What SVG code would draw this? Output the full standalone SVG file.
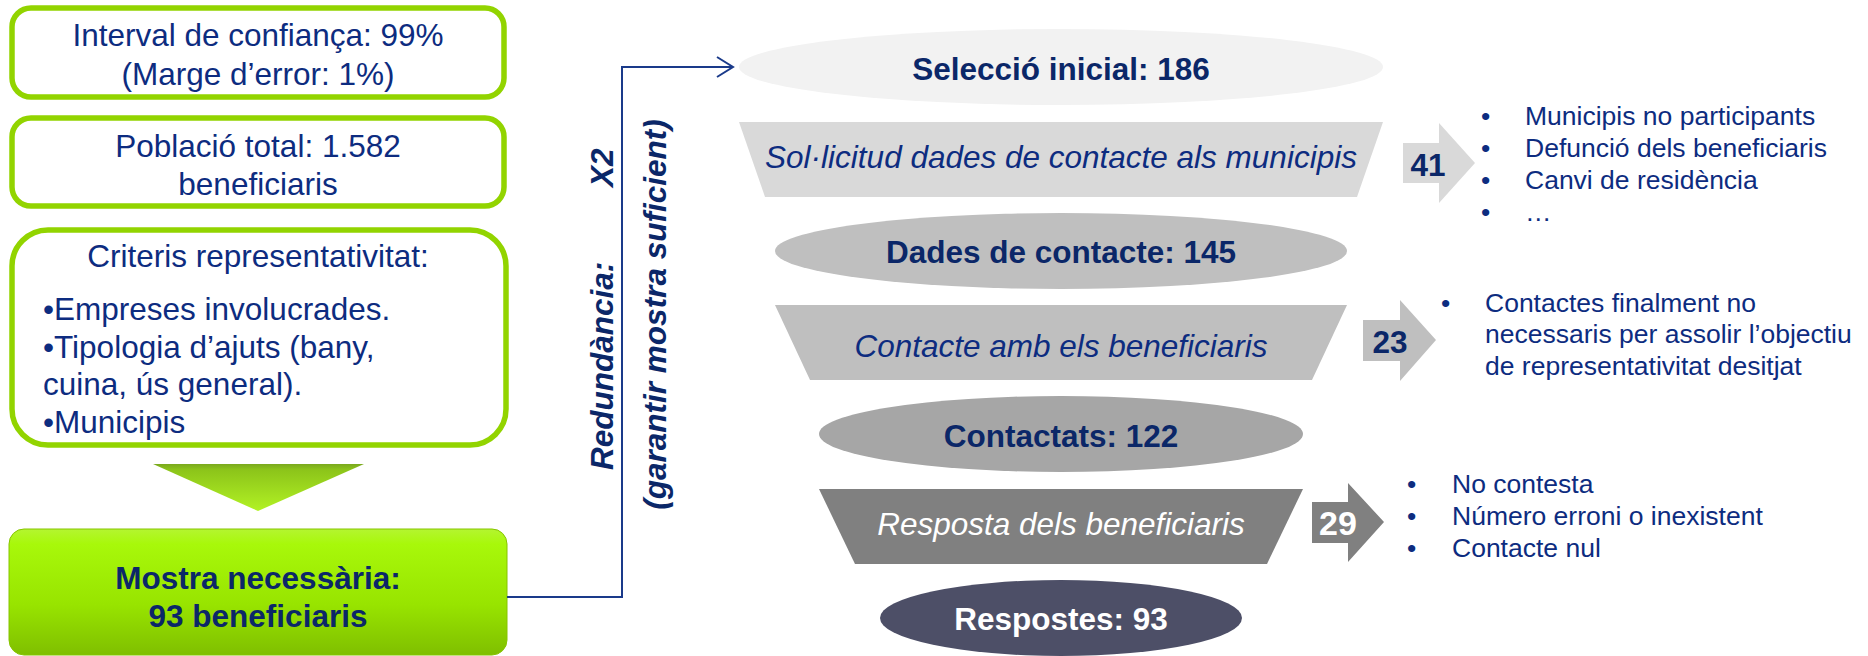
<svg xmlns="http://www.w3.org/2000/svg" width="1868" height="656" viewBox="0 0 1868 656">
<defs>
<linearGradient id="gBox" x1="0" y1="0" x2="0" y2="1">
<stop offset="0" stop-color="#b4f530"/>
<stop offset="0.12" stop-color="#a8f80a"/>
<stop offset="0.6" stop-color="#98e400"/>
<stop offset="1" stop-color="#7fbf00"/>
</linearGradient>
<linearGradient id="gTri" x1="0" y1="0" x2="0" y2="1">
<stop offset="0" stop-color="#7aa81e"/>
<stop offset="0.12" stop-color="#8cc41a"/>
<stop offset="1" stop-color="#b2f224"/>
</linearGradient>
<marker id="open" markerWidth="20" markerHeight="24" refX="17" refY="11" orient="auto" markerUnits="userSpaceOnUse">
<path d="M1,1 L17,11 L1,21" fill="none" stroke="#1a3a8a" stroke-width="2"/>
</marker>
</defs>
<style>
.gbox{fill:#ffffff;stroke:#92d400;stroke-width:5.5}
.t{font-family:"Liberation Sans",Arial,sans-serif;font-size:31.5px;fill:#0d2c80}
.b{font-weight:bold;fill:#0b2768}
.i{font-style:italic}
.w{fill:#ffffff}
.c{text-anchor:middle}
.s{font-family:"Liberation Sans",Arial,sans-serif;font-size:26.5px;fill:#0d2c80}
.conn{fill:none;stroke:#1a3a8a;stroke-width:2}
</style>

<g id="box-interval">
<rect class="gbox" x="12" y="8" width="492" height="89" rx="19"/>
<text class="t c" x="258" y="46">Interval de confiança: 99%</text>
<text class="t c" x="258" y="85">(Marge d’error: 1%)</text>
</g>

<g id="box-poblacio">
<rect class="gbox" x="12" y="118" width="492" height="88" rx="19"/>
<text class="t c" x="258" y="157">Població total: 1.582</text>
<text class="t c" x="258" y="195">beneficiaris</text>
</g>

<g id="box-criteris">
<rect class="gbox" x="12" y="230" width="494" height="215" rx="36"/>
<text class="t c" x="258" y="267">Criteris representativitat:</text>
<text class="t" x="43" y="320">•Empreses involucrades.</text>
<text class="t" x="43" y="358">•Tipologia d’ajuts (bany,</text>
<text class="t" x="43" y="395">cuina, ús general).</text>
<text class="t" x="43" y="433">•Municipis</text>
</g>

<g id="down-arrow">
<polygon points="153,464 364,464 258,511" fill="url(#gTri)"/>
</g>

<g id="box-mostra">
<rect x="9" y="529" width="498" height="126" rx="15" fill="url(#gBox)" stroke="#86c400" stroke-width="1"/>
<text class="t b c" x="258" y="589">Mostra necessària:</text>
<text class="t b c" x="258" y="627">93 beneficiaris</text>
</g>

<g id="redundancia">
<text class="t b i" transform="translate(613,470) rotate(-90)">Redundància:</text>
<text class="t b i" transform="translate(613,187) rotate(-90)">X2</text>
<text class="t b i c" transform="translate(666,314.5) rotate(-90)">(garantir mostra suficient)</text>
</g>

<g id="connectors">
<polyline class="conn" points="507,597 622,597 622,67 733,67" marker-end="url(#open)"/>
</g>

<g id="sel-inicial">
<ellipse cx="1061" cy="67" rx="322" ry="38" fill="#f2f2f2"/>
<text class="t b c" x="1061" y="80">Selecció inicial: 186</text>
</g>

<g id="sol-licitud">
<polygon points="739,122 1383,122 1357,197 765,197" fill="#d9d9d9"/>
<text class="t i c" x="1061" y="168">Sol·licitud dades de contacte als municipis</text>
</g>

<g id="dades-contacte">
<ellipse cx="1061" cy="251" rx="286" ry="38" fill="#bfbfbf"/>
<text class="t b c" x="1061" y="263">Dades de contacte: 145</text>
</g>

<g id="contacte-benef">
<polygon points="775,305 1347,305 1312,380 810,380" fill="#bfbfbf"/>
<text class="t i c" x="1061" y="357">Contacte amb els beneficiaris</text>
</g>

<g id="contactats">
<ellipse cx="1061" cy="434" rx="242" ry="38" fill="#a6a6a6"/>
<text class="t b c" x="1061" y="447">Contactats: 122</text>
</g>

<g id="resposta-benef">
<polygon points="819,489 1303,489 1267,564 855,564" fill="#808080"/>
<text class="t i c w" x="1061" y="535">Resposta dels beneficiaris</text>
</g>

<g id="respostes">
<ellipse cx="1061" cy="618" rx="181" ry="38" fill="#4d4f67"/>
<text class="t b c w" x="1061" y="630">Respostes: 93</text>
</g>

<g id="arrow-41">
<polygon points="1403,143 1439,143 1439,123 1475,163 1439,203 1439,183 1403,183" fill="#d9d9d9"/>
<text class="t b c" x="1428" y="176">41</text>
</g>

<g id="arrow-23">
<polygon points="1363,320 1400,320 1400,300 1436,340 1400,381 1400,361 1363,361" fill="#bfbfbf"/>
<text class="t b c" x="1390" y="353">23</text>
</g>

<g id="arrow-29">
<polygon points="1312,502 1348,502 1348,483 1384,522 1348,562 1348,543 1312,543" fill="#808080"/>
<text class="t b c w" x="1338" y="535" style="font-size:34px">29</text>
</g>

<g id="motius-41">
<text class="s" x="1481" y="125">•</text>
<text class="s" x="1481" y="157">•</text>
<text class="s" x="1481" y="189">•</text>
<text class="s" x="1481" y="221">•</text>
<text class="s" x="1525" y="125">Municipis no participants</text>
<text class="s" x="1525" y="157">Defunció dels beneficiaris</text>
<text class="s" x="1525" y="189">Canvi de residència</text>
<text class="s" x="1525" y="221">…</text>
</g>

<g id="motius-23">
<text class="s" x="1441" y="312">•</text>
<text class="s" x="1485" y="312">Contactes finalment no</text>
<text class="s" x="1485" y="343">necessaris per assolir l’objectiu</text>
<text class="s" x="1485" y="375">de representativitat desitjat</text>
</g>

<g id="motius-29">
<text class="s" x="1407" y="493">•</text>
<text class="s" x="1407" y="525">•</text>
<text class="s" x="1407" y="557">•</text>
<text class="s" x="1452" y="493">No contesta</text>
<text class="s" x="1452" y="525">Número erroni o inexistent</text>
<text class="s" x="1452" y="557">Contacte nul</text>
</g>
</svg>
